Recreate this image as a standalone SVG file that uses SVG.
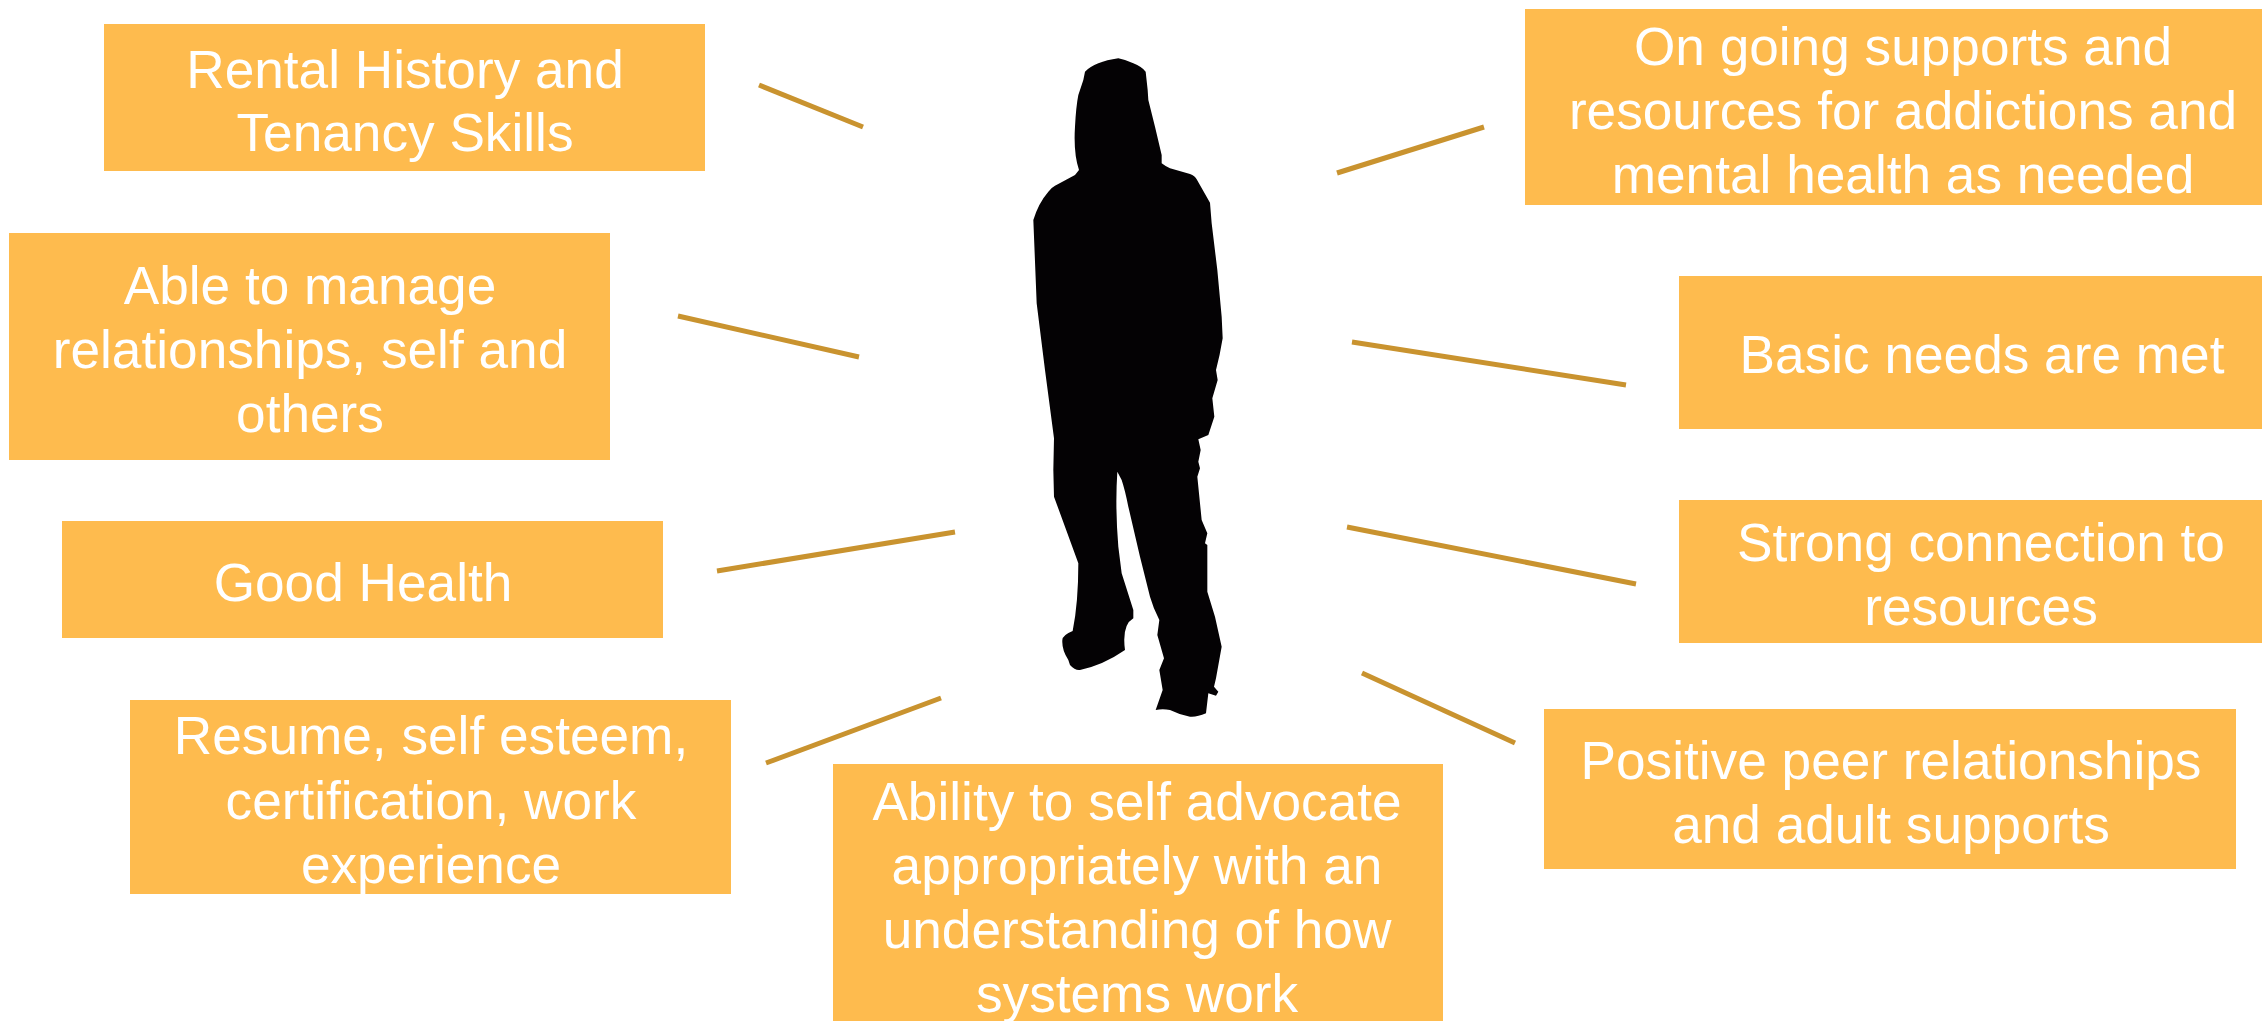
<svg xmlns="http://www.w3.org/2000/svg" width="2262" height="1021" viewBox="0 0 2262 1021">
<style>
.box{fill:#febb4e}
.t{fill:#fff;font-family:"Liberation Sans",Arial,sans-serif;font-size:53.2px;text-anchor:middle}
.c{stroke:#c9932f;stroke-width:5;fill:none}
</style>
<rect width="2262" height="1021" fill="#fff"/>
<g id="connectors">
<line class="c" x1="759" y1="85" x2="863" y2="127"/>
<line class="c" x1="678" y1="316" x2="859" y2="357"/>
<line class="c" x1="717" y1="571" x2="955" y2="532"/>
<line class="c" x1="766" y1="763" x2="941" y2="698"/>
<line class="c" x1="1337" y1="173" x2="1484" y2="127"/>
<line class="c" x1="1352" y1="342" x2="1626" y2="385"/>
<line class="c" x1="1347" y1="527" x2="1636" y2="584"/>
<line class="c" x1="1362" y1="673" x2="1515" y2="743"/>
</g>
<g id="person"><path fill="#040204" transform="translate(980 30) scale(.33333)" d="M415 85Q440 90 460 100Q485 110 497 125L503 180L505 210L525 290L545 375L545 400Q555 408 570 415L630 432Q645 438 650 448L690 518L695 580L712 720L725 860L728 925Q720 975 708 1020L713 1050L697 1105L703 1160L685 1215L655 1228L662 1260L655 1295L660 1315L652 1340L665 1470L682 1510L675 1540L682 1545L682 1685L705 1760L725 1850L708 1945L702 1970L715 1985L708 1997L685 1990L678 2050Q650 2062 630 2060Q600 2055 570 2040Q548 2036 527 2040L548 1980L538 1920L552 1885L532 1815L538 1770Q520 1735 510 1700L480 1580L445 1430Q435 1380 425 1350L412 1325Q405 1430 415 1550L425 1630L460 1740L460 1765Q425 1785 435 1860Q370 1905 300 1920Q285 1922 270 1905L265 1890Q245 1860 247 1830Q248 1815 278 1803Q295 1720 295 1600L222 1400L220 1320L222 1225L195 1020L170 820L160 570Q175 520 205 485Q215 472 225 467L285 435L297 420Q280 370 285 290Q288 230 295 195L310 150L315 125Q345 95 415 85Z"/></g>
<g id="n1"><rect class="box" x="104" y="24" width="601" height="147"/><text class="t" x="405" y="88">Rental History and</text><text class="t" x="405" y="151">Tenancy Skills</text></g>
<g id="n2"><rect class="box" x="9" y="233" width="601" height="227"/><text class="t" x="310" y="304">Able to manage</text><text class="t" x="310" y="368">relationships, self and</text><text class="t" x="310" y="432">others</text></g>
<g id="n3"><rect class="box" x="62" y="521" width="601" height="117"/><text class="t" x="363" y="601">Good Health</text></g>
<g id="n4"><rect class="box" x="130" y="700" width="601" height="194"/><text class="t" x="431" y="754">Resume, self esteem,</text><text class="t" x="431" y="819">certification, work</text><text class="t" x="431" y="883">experience</text></g>
<g id="n5"><rect class="box" x="833" y="764" width="610" height="257"/><text class="t" x="1137" y="820">Ability to self advocate</text><text class="t" x="1137" y="884">appropriately with an</text><text class="t" x="1137" y="948">understanding of how</text><text class="t" x="1137" y="1012">systems work</text></g>
<g id="n6"><rect class="box" x="1525" y="9" width="737" height="196"/><text class="t" x="1903" y="65">On going supports and</text><text class="t" x="1903" y="129">resources for addictions and</text><text class="t" x="1903" y="193">mental health as needed</text></g>
<g id="n7"><rect class="box" x="1679" y="276" width="583" height="153"/><text class="t" x="1982" y="373">Basic needs are met</text></g>
<g id="n8"><rect class="box" x="1679" y="500" width="583" height="143"/><text class="t" x="1981" y="561">Strong connection to</text><text class="t" x="1981" y="625">resources</text></g>
<g id="n9"><rect class="box" x="1544" y="709" width="692" height="160"/><text class="t" x="1891" y="779">Positive peer relationships</text><text class="t" x="1891" y="843">and adult supports</text></g>
</svg>
